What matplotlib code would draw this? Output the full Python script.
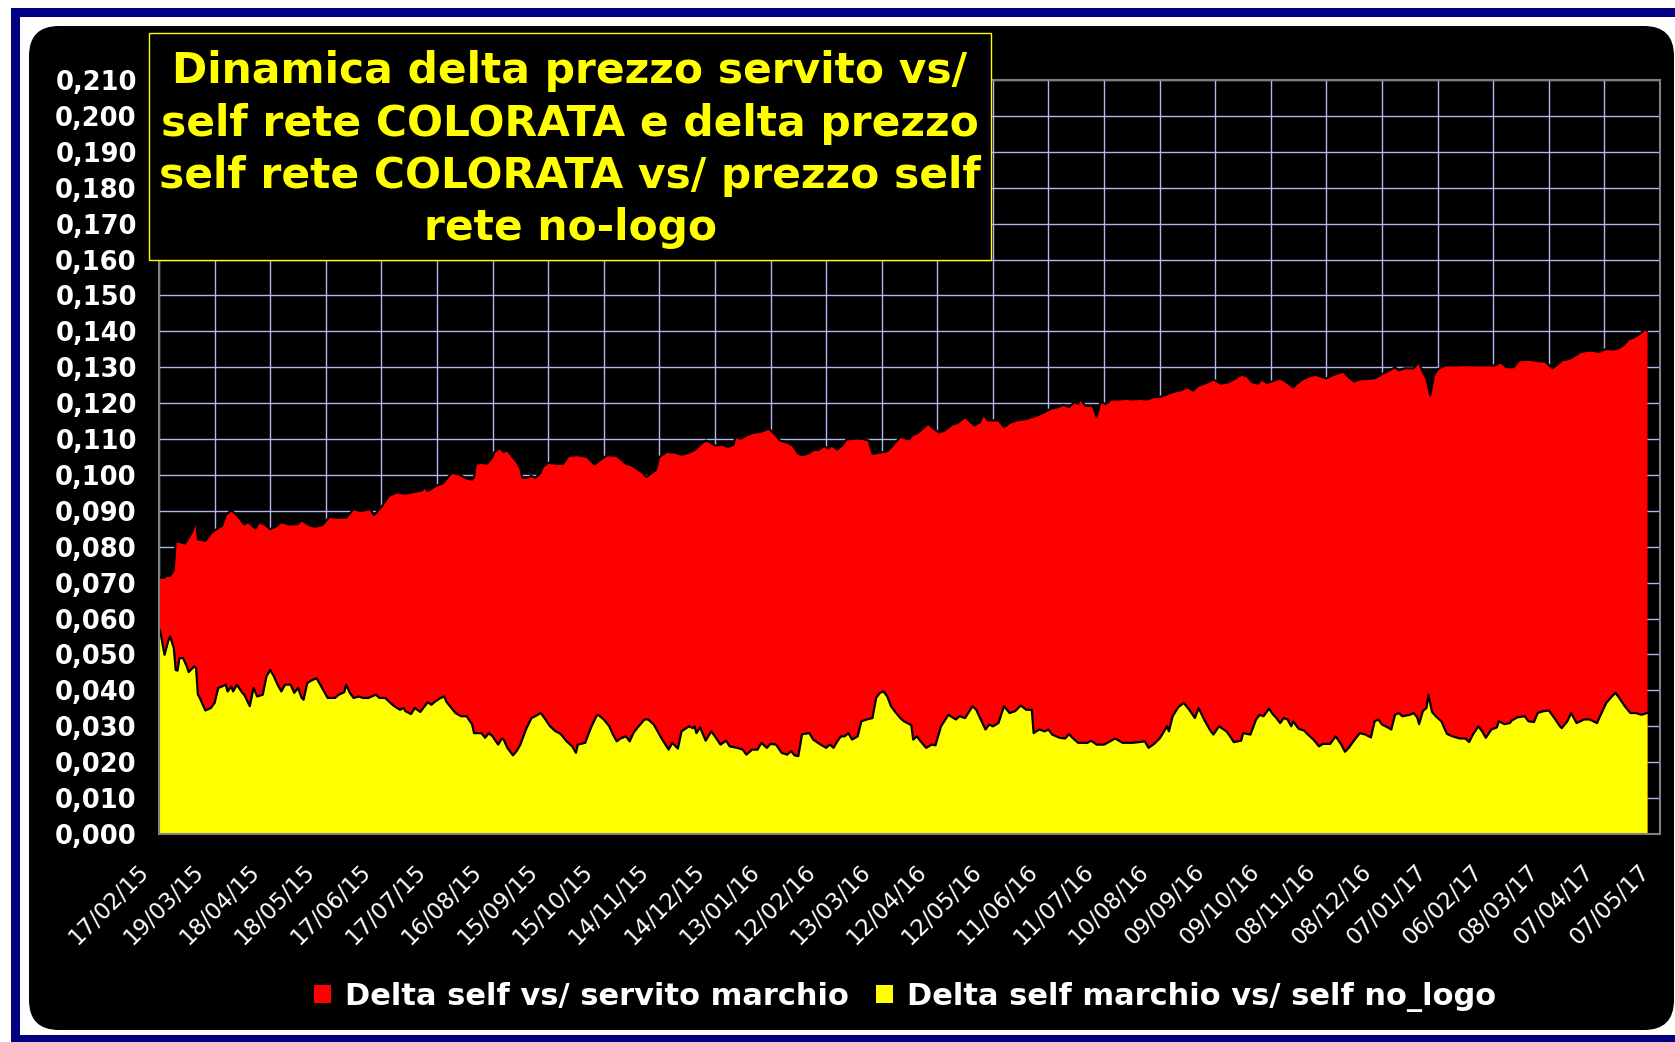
import numpy as np
import pandas as pd
import matplotlib
matplotlib.use('Agg')
import matplotlib.pyplot as plt
from matplotlib.patches import Rectangle, FancyBboxPatch, Patch
from matplotlib.transforms import IdentityTransform, ScaledTranslation
from matplotlib.ticker import FuncFormatter

#%%

# Etichette asse x (una ogni 30 giorni)
etichette_x = ['17/02/15', '19/03/15', '18/04/15', '18/05/15', '17/06/15', '17/07/15',
               '16/08/15', '15/09/15', '15/10/15', '14/11/15', '14/12/15', '13/01/16',
               '12/02/16', '13/03/16', '12/04/16', '12/05/16', '11/06/16', '11/07/16',
               '10/08/16', '09/09/16', '09/10/16', '08/11/16', '08/12/16', '07/01/17',
               '06/02/17', '08/03/17', '07/04/17', '07/05/17']

titolo = ['Dinamica delta prezzo servito vs/',
          'self rete COLORATA e delta prezzo',
          'self rete COLORATA vs/ prezzo self',
          'rete no-logo']

serie = ['Delta self vs/ servito marchio', 'Delta self marchio vs/ self no_logo']

# Bordo superiore dell'area rossa (pila) - giorni dal 17/02/15
giorni_pila = [0, 3, 4, 6, 8, 9, 14, 18, 20, 21, 25, 28, 32, 34, 36, 39, 42, 46, 48, 52,
               54, 57, 60, 63, 66, 70, 75, 77, 81, 84, 88, 92, 97, 101, 105, 109, 114, 116, 120, 124,
               128, 133, 138, 142, 143, 145, 147, 150, 153, 158, 162, 166, 169, 170, 171, 174, 177, 180, 181, 184,
               186, 188, 190, 193, 195, 196, 198, 201, 203, 206, 207, 210, 214, 218, 221, 226, 231, 235, 239, 242,
               247, 252, 255, 259, 261, 263, 266, 268, 270, 274, 279, 282, 286, 289, 292, 295, 297, 300, 304, 307,
               310, 311, 314, 317, 321, 324, 329, 332, 335, 339, 342, 345, 347, 350, 353, 356, 359, 361, 363, 366,
               369, 371, 376, 379, 383, 385, 389, 393, 396, 400, 405, 406, 410, 415, 417, 421, 424, 428, 431, 435,
               437, 440, 443, 445, 447, 453, 456, 459, 463, 468, 471, 474, 478, 481, 485, 488, 491, 494, 496, 497,
               500, 504, 506, 508, 511, 514, 518, 522, 525, 529, 533, 537, 540, 543, 548, 551, 555, 558, 561, 565,
               569, 573, 577, 581, 584, 587, 590, 593, 595, 598, 602, 605, 608, 612, 614, 617, 621, 624, 630, 633,
               639, 642, 645, 648, 653, 656, 660, 664, 667, 669, 672, 677, 680, 682, 684, 686, 688, 690, 694, 700,
               705, 710, 716, 721, 724, 727, 731, 734, 738, 742, 745, 748, 752, 755, 757, 761, 764, 767, 771, 774,
               777, 781, 784, 787, 790, 793, 796, 799, 802, 803]
vertice_pila = [0.0714, 0.0714, 0.0719, 0.0719, 0.0735, 0.0816, 0.0809, 0.0842, 0.0876, 0.0821,
                0.0816, 0.0837, 0.0853, 0.0858, 0.0888, 0.0902, 0.0888, 0.0862, 0.0869, 0.0851,
                0.0868, 0.0862, 0.0849, 0.0856, 0.0869, 0.0862, 0.0863, 0.0874, 0.0860, 0.0856,
                0.0860, 0.0883, 0.0881, 0.0881, 0.0905, 0.0899, 0.0905, 0.0888, 0.0911, 0.0941,
                0.0951, 0.0948, 0.0953, 0.0957, 0.0967, 0.0955, 0.0962, 0.0971, 0.0976, 0.1006,
                0.1001, 0.0990, 0.0987, 0.0994, 0.1031, 0.1034, 0.1031, 0.1050, 0.1064, 0.1075,
                0.1064, 0.1069, 0.1055, 0.1036, 0.1018, 0.0993, 0.0992, 0.0997, 0.0992, 0.1006,
                0.1022, 0.1034, 0.1031, 0.1031, 0.1053, 0.1055, 0.1050, 0.1029, 0.1045, 0.1055,
                0.1053, 0.1031, 0.1027, 0.1013, 0.1006, 0.0994, 0.1006, 0.1013, 0.1050, 0.1064,
                0.1062, 0.1056, 0.1062, 0.1069, 0.1084, 0.1096, 0.1092, 0.1082, 0.1084, 0.1078,
                0.1084, 0.1106, 0.1101, 0.1110, 0.1118, 0.1119, 0.1129, 0.1115, 0.1096, 0.1090,
                0.1082, 0.1059, 0.1055, 0.1059, 0.1069, 0.1070, 0.1081, 0.1073, 0.1082, 0.1071,
                0.1084, 0.1099, 0.1101, 0.1101, 0.1096, 0.1059, 0.1062, 0.1066, 0.1082, 0.1106,
                0.1099, 0.1108, 0.1119, 0.1143, 0.1133, 0.1118, 0.1124, 0.1140, 0.1145, 0.1161,
                0.1152, 0.1138, 0.1147, 0.1170, 0.1152, 0.1152, 0.1133, 0.1145, 0.1152, 0.1156,
                0.1161, 0.1166, 0.1175, 0.1184, 0.1189, 0.1195, 0.1189, 0.1203, 0.1198, 0.1212,
                0.1192, 0.1192, 0.1161, 0.1203, 0.1198, 0.1210, 0.1210, 0.1212, 0.1210, 0.1212,
                0.1210, 0.1217, 0.1217, 0.1223, 0.1232, 0.1235, 0.1244, 0.1235, 0.1249, 0.1256,
                0.1266, 0.1254, 0.1258, 0.1269, 0.1279, 0.1275, 0.1258, 0.1254, 0.1266, 0.1256,
                0.1263, 0.1269, 0.1260, 0.1244, 0.1254, 0.1266, 0.1275, 0.1279, 0.1269, 0.1277,
                0.1288, 0.1272, 0.1260, 0.1266, 0.1268, 0.1269, 0.1281, 0.1291, 0.1300, 0.1291,
                0.1297, 0.1297, 0.1314, 0.1286, 0.1268, 0.1221, 0.1277, 0.1294, 0.1305, 0.1305,
                0.1306, 0.1305, 0.1305, 0.1305, 0.1314, 0.1300, 0.1300, 0.1319, 0.1321, 0.1319,
                0.1316, 0.1316, 0.1297, 0.1309, 0.1319, 0.1323, 0.1332, 0.1342, 0.1346, 0.1346,
                0.1342, 0.1351, 0.1349, 0.1351, 0.1360, 0.1377, 0.1383, 0.1393, 0.1406, 0.1402]

# Area gialla: delta self marchio vs/ self no_logo
giorni_giallo = [0, 1, 3, 5, 6, 8, 9, 10, 11, 13, 15, 16, 19, 20, 21, 22, 24, 25, 28, 30,
                 32, 34, 36, 37, 39, 40, 42, 45, 46, 49, 51, 53, 56, 58, 60, 62, 64, 66, 68, 71,
                 73, 75, 77, 78, 80, 82, 85, 88, 90, 91, 95, 97, 100, 101, 103, 105, 108, 110, 113, 117,
                 119, 122, 126, 127, 130, 132, 133, 136, 138, 141, 144, 145, 147, 149, 152, 154, 155, 157, 160, 163,
                 166, 169, 170, 174, 176, 178, 180, 183, 185, 186, 188, 191, 193, 195, 198, 201, 203, 206, 208, 211,
                 214, 216, 217, 220, 223, 225, 226, 230, 231, 233, 236, 237, 240, 243, 245, 247, 249, 252, 254, 256,
                 258, 262, 264, 267, 271, 275, 277, 280, 282, 286, 288, 289, 290, 292, 295, 298, 300, 303, 306, 308,
                 312, 315, 317, 320, 323, 325, 328, 330, 333, 336, 339, 341, 343, 345, 347, 351, 353, 357, 360, 362,
                 364, 366, 368, 370, 372, 374, 377, 379, 382, 385, 387, 389, 391, 393, 395, 397, 400, 402, 406, 407,
                 409, 411, 414, 417, 419, 422, 426, 430, 432, 435, 439, 441, 446, 448, 450, 453, 456, 459, 462, 465,
                 468, 471, 472, 475, 478, 480, 482, 486, 489, 491, 494, 496, 501, 503, 506, 510, 516, 520, 525, 529,
                 532, 534, 537, 540, 544, 545, 547, 550, 553, 556, 559, 561, 564, 567, 569, 572, 576, 578, 580, 584,
                 585, 589, 592, 594, 596, 599, 601, 603, 605, 607, 609, 611, 612, 615, 618, 620, 623, 626, 628, 632,
                 635, 638, 640, 642, 646, 648, 651, 654, 656, 658, 660, 663, 665, 667, 669, 671, 675, 677, 679, 680,
                 682, 684, 685, 687, 689, 692, 695, 698, 702, 705, 707, 709, 712, 714, 716, 719, 722, 723, 726, 729,
                 730, 733, 737, 739, 742, 744, 747, 750, 753, 756, 757, 760, 762, 765, 769, 772, 776, 778, 781, 784,
                 786, 788, 791, 794, 797, 800, 803]
delta_nologo = [0.0573, 0.0555, 0.0499, 0.0538, 0.0550, 0.0518, 0.0457, 0.0455, 0.0490, 0.0490,
                0.0467, 0.0451, 0.0467, 0.0462, 0.0388, 0.0379, 0.0356, 0.0344, 0.0351, 0.0365,
                0.0407, 0.0411, 0.0416, 0.0397, 0.0411, 0.0397, 0.0416, 0.0393, 0.0388, 0.0356,
                0.0407, 0.0383, 0.0388, 0.0439, 0.0457, 0.0439, 0.0416, 0.0397, 0.0416, 0.0416,
                0.0393, 0.0407, 0.0379, 0.0374, 0.0420, 0.0427, 0.0434, 0.0407, 0.0388, 0.0379,
                0.0379, 0.0388, 0.0395, 0.0416, 0.0393, 0.0379, 0.0383, 0.0379, 0.0379, 0.0388,
                0.0379, 0.0379, 0.0360, 0.0356, 0.0346, 0.0351, 0.0342, 0.0334, 0.0351, 0.0340,
                0.0360, 0.0367, 0.0360, 0.0369, 0.0379, 0.0383, 0.0369, 0.0356, 0.0337, 0.0328,
                0.0328, 0.0305, 0.0281, 0.0281, 0.0268, 0.0281, 0.0272, 0.0249, 0.0266, 0.0263,
                0.0240, 0.0219, 0.0231, 0.0249, 0.0291, 0.0323, 0.0328, 0.0337, 0.0323, 0.0300,
                0.0286, 0.0281, 0.0277, 0.0258, 0.0244, 0.0226, 0.0249, 0.0254, 0.0268, 0.0295,
                0.0328, 0.0332, 0.0319, 0.0300, 0.0277, 0.0258, 0.0266, 0.0272, 0.0258, 0.0281,
                0.0295, 0.0319, 0.0319, 0.0305, 0.0268, 0.0235, 0.0254, 0.0238, 0.0286, 0.0300,
                0.0295, 0.0300, 0.0281, 0.0297, 0.0260, 0.0286, 0.0272, 0.0249, 0.0260, 0.0244,
                0.0240, 0.0235, 0.0221, 0.0235, 0.0235, 0.0254, 0.0240, 0.0251, 0.0249, 0.0226,
                0.0221, 0.0231, 0.0219, 0.0217, 0.0278, 0.0281, 0.0263, 0.0249, 0.0240, 0.0249,
                0.0240, 0.0258, 0.0272, 0.0272, 0.0281, 0.0263, 0.0272, 0.0314, 0.0319, 0.0323,
                0.0379, 0.0393, 0.0397, 0.0383, 0.0356, 0.0342, 0.0323, 0.0314, 0.0303, 0.0263,
                0.0272, 0.0258, 0.0240, 0.0249, 0.0247, 0.0300, 0.0332, 0.0319, 0.0328, 0.0323,
                0.0356, 0.0346, 0.0291, 0.0305, 0.0300, 0.0309, 0.0356, 0.0337, 0.0342, 0.0358,
                0.0346, 0.0346, 0.0281, 0.0291, 0.0286, 0.0291, 0.0277, 0.0268, 0.0266, 0.0278,
                0.0263, 0.0254, 0.0254, 0.0260, 0.0249, 0.0249, 0.0266, 0.0254, 0.0254, 0.0256,
                0.0258, 0.0240, 0.0251, 0.0266, 0.0300, 0.0286, 0.0328, 0.0353, 0.0365, 0.0346,
                0.0323, 0.0351, 0.0319, 0.0291, 0.0277, 0.0300, 0.0286, 0.0272, 0.0256, 0.0260,
                0.0281, 0.0277, 0.0319, 0.0332, 0.0328, 0.0349, 0.0334, 0.0323, 0.0309, 0.0323,
                0.0319, 0.0300, 0.0314, 0.0293, 0.0288, 0.0277, 0.0263, 0.0244, 0.0251, 0.0251,
                0.0272, 0.0249, 0.0229, 0.0240, 0.0268, 0.0281, 0.0277, 0.0269, 0.0314, 0.0319,
                0.0305, 0.0297, 0.0291, 0.0332, 0.0337, 0.0328, 0.0332, 0.0337, 0.0325, 0.0306,
                0.0342, 0.0351, 0.0388, 0.0340, 0.0328, 0.0314, 0.0279, 0.0272, 0.0266, 0.0266,
                0.0256, 0.0277, 0.0300, 0.0286, 0.0268, 0.0291, 0.0297, 0.0314, 0.0306, 0.0309,
                0.0316, 0.0325, 0.0328, 0.0314, 0.0312, 0.0337, 0.0342, 0.0344, 0.0323, 0.0300,
                0.0295, 0.0314, 0.0337, 0.0309, 0.0319, 0.0319, 0.0309, 0.0332, 0.0365, 0.0383,
                0.0393, 0.0379, 0.0356, 0.0337, 0.0337, 0.0332, 0.0337]

#%%

inizio = pd.Timestamp('2015-02-17')
date_pila = inizio + pd.to_timedelta(giorni_pila, unit='D')
date_giallo = inizio + pd.to_timedelta(giorni_giallo, unit='D')
date_tick = pd.to_datetime(etichette_x, format='%d/%m/%y')

W, H = 1675, 1042
fig = plt.figure(figsize=(W / 100, H / 100), dpi=100)
fig.patch.set_facecolor('white')

# cornice blu, bordo bianco e fondo nero arrotondato (coordinate in pixel)
pix = IdentityTransform()
fig.add_artist(Rectangle((11, 0), 1700, 1034, transform=pix, facecolor='#000080', edgecolor='none', zorder=-3))
fig.add_artist(Rectangle((20, 7), 1700, 1018, transform=pix, facecolor='white', edgecolor='none', zorder=-2))
fig.add_artist(FancyBboxPatch((29, 12), 1645, 1004, boxstyle='round,pad=0,rounding_size=30',
                              transform=pix, facecolor='black', edgecolor='none', zorder=-1))

ax = fig.add_axes([159 / W, 1 - 834 / H, (1660 - 159) / W, (834 - 80) / H])
ax.set_facecolor('black')

ax.fill_between(date_pila, 0, vertice_pila, color='#ff0000', lw=0, zorder=2)
ax.plot(date_pila, vertice_pila, color='black', lw=1.5, zorder=3)
ax.fill_between(date_giallo, 0, delta_nologo, color='#ffff00', lw=0, zorder=4)
ax.plot(date_giallo, delta_nologo, color='black', lw=1.6, zorder=5)

ax.set_xlim(date_tick[0], date_tick[-1])
ax.set_ylim(0, 0.21)
ax.set_yticks(np.arange(0, 0.2101, 0.01))
ax.yaxis.set_major_formatter(FuncFormatter(lambda v, p: f'{v:.3f}'.replace('.', ',')))
ax.set_xticks(date_tick)
ax.set_xticklabels(etichette_x)

ax.set_axisbelow(True)
ax.grid(True, color='#b4b4f0', lw=1.0)
for s in ax.spines.values():
    s.set_color('#808080')
    s.set_linewidth(1.5)
    s.set_zorder(6)

ax.tick_params(axis='y', length=0, pad=16, labelsize=18.5, labelcolor='white')
ax.tick_params(axis='x', length=0, pad=19, labelsize=16.5, labelcolor='white')
for t in ax.get_yticklabels():
    t.set_fontweight('bold')
sposta = ScaledTranslation(-6 / 100, 0, fig.dpi_scale_trans)
for t in ax.get_xticklabels():
    t.set_rotation(45)
    t.set_ha('right')
    t.set_transform(t.get_transform() + sposta)

# riquadro titolo
fig.add_artist(Rectangle((149, H - 260), 842, 227, transform=pix, facecolor='black',
                         edgecolor='#ffff00', lw=1, zorder=5))
basi = [83, 136, 188, 240]
for riga, b in zip(titolo, basi):
    fig.text(570 / W, 1 - b / H, riga, ha='center', va='baseline', color='#ffff00',
             fontsize=30.5, fontweight='bold', zorder=6)

maniglie = [Patch(facecolor='#ff0000', edgecolor='none'), Patch(facecolor='#ffff00', edgecolor='none')]
leg = fig.legend(maniglie, serie, loc='center', bbox_to_anchor=(905 / W, 1 - 997 / H), ncol=2,
                 frameon=False, handlelength=0.55, handleheight=0.55, handletextpad=0.45,
                 columnspacing=0.9, prop={'size': 22, 'weight': 'bold'})
for t in leg.get_texts():
    t.set_color('white')

fig.savefig('out.png', dpi=100, facecolor='white')
